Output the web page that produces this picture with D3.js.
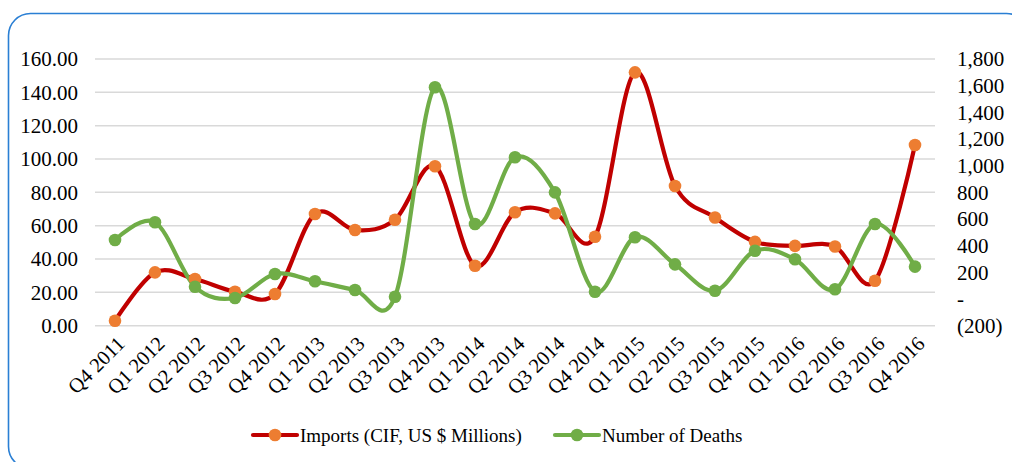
<!DOCTYPE html>
<html>
<head>
<meta charset="utf-8">
<script src="https://cdn.jsdelivr.net/npm/d3@7"></script>
<style>
  body { margin: 0; background: #fff; }
  text { font-family: "Liberation Serif", "Times New Roman", serif; fill: #000; }
</style>
</head>
<body>
<script>
// quarters along the x axis
const quarters = ["Q4 2011", "Q1 2012", "Q2 2012", "Q3 2012", "Q4 2012", "Q1 2013", "Q2 2013", "Q3 2013",
  "Q4 2013", "Q1 2014", "Q2 2014", "Q3 2014", "Q4 2014", "Q1 2015", "Q2 2015", "Q3 2015",
  "Q4 2015", "Q1 2016", "Q2 2016", "Q3 2016", "Q4 2016"];

// Imports (CIF, US $ Millions) - left axis
const imports = [3, 32, 28, 20.4, 19, 67, 57.4, 63.6, 95.7, 36, 68.1, 67.4, 53.4, 152, 83.8, 64.9,
  50.3, 47.9, 47.5, 27, 108.4];

// Number of Deaths - right axis
const deaths = [443, 576, 92, 8, 188, 133, 68, 17, 1588, 563, 1063, 800, 55, 463, 260, 62,
  362, 298, 73, 563, 243];

const leftTicks = [0, 20, 40, 60, 80, 100, 120, 140, 160];
const rightTicks = [-200, 0, 200, 400, 600, 800, 1000, 1200, 1400, 1600, 1800];

let width = 1012, height = 462;

let svg = d3.select("body").append("svg")
  .attr("width", width).attr("height", height);

// rounded frame
svg.append("rect")
  .attr("x", 8.5).attr("y", 13.5)
  .attr("width", 1020).attr("height", 455)
  .attr("rx", 22)
  .attr("fill", "none")
  .attr("stroke", "#2a7fd4")
  .attr("stroke-width", 1.6);

let x = d3.scaleBand().domain(quarters).range([95, 935]);
let yL = d3.scaleLinear().domain([0, 160]).range([325.7, 59]);
let yR = d3.scaleLinear().domain([-200, 1800]).range([325.7, 59]);

let cx = d => x(d) + x.bandwidth() / 2;

// grid lines
svg.append("g").selectAll("line")
  .data(leftTicks)
  .join("line")
  .attr("x1", 95).attr("x2", 935)
  .attr("y1", d => yL(d)).attr("y2", d => yL(d))
  .attr("stroke", "#d9d9d9")
  .attr("stroke-width", 1.5);

// left axis
let axL = svg.append("g")
  .attr("transform", "translate(84,0)")
  .call(d3.axisLeft(yL).tickValues(leftTicks).tickFormat(d3.format(".2f")).tickSize(0).tickPadding(6));
axL.select(".domain").remove();
axL.selectAll("text").style("font-size", "21px").attr("font-family", null);

// right axis
let fmtR = d => d < 0 ? "(" + d3.format(",")(-d) + ")" : d === 0 ? "-" : d3.format(",")(d);
let axR = svg.append("g")
  .attr("transform", "translate(951,0)")
  .call(d3.axisRight(yR).tickValues(rightTicks).tickFormat(fmtR).tickSize(0).tickPadding(6));
axR.select(".domain").remove();
axR.selectAll("text").style("font-size", "21px").attr("font-family", null);

// x labels
svg.append("g").selectAll("text")
  .data(quarters)
  .join("text")
  .attr("transform", d => `translate(${cx(d) + 6},${340}) rotate(-45)`)
  .attr("text-anchor", "end")
  .attr("dy", "0.35em")
  .style("font-size", "20.5px")
  .text(d => d);

let curve = d3.curveCardinal.tension(0);

let lineImp = d3.line()
  .x((d, i) => cx(quarters[i]))
  .y(d => yL(d))
  .curve(curve);

let lineDeaths = d3.line()
  .x((d, i) => cx(quarters[i]))
  .y(d => yR(d))
  .curve(curve);

svg.append("path")
  .attr("d", lineImp(imports))
  .attr("fill", "none")
  .attr("stroke", "#c00000")
  .attr("stroke-width", 4.2)
  .attr("stroke-linecap", "round");

svg.append("path")
  .attr("d", lineDeaths(deaths))
  .attr("fill", "none")
  .attr("stroke", "#70ad47")
  .attr("stroke-width", 4.2)
  .attr("stroke-linecap", "round");

svg.append("g").selectAll("circle")
  .data(imports)
  .join("circle")
  .attr("cx", (d, i) => cx(quarters[i]))
  .attr("cy", d => yL(d))
  .attr("r", 6.3)
  .attr("fill", "#ed7d31");

svg.append("g").selectAll("circle")
  .data(deaths)
  .join("circle")
  .attr("cx", (d, i) => cx(quarters[i]))
  .attr("cy", d => yR(d))
  .attr("r", 6.3)
  .attr("fill", "#70ad47");

// legend
let legend = [
  { name: "Imports (CIF, US $ Millions)", line: "#c00000", dot: "#ed7d31", x: 253 },
  { name: "Number of Deaths", line: "#70ad47", dot: "#70ad47", x: 555 }
];
let lg = svg.append("g").selectAll("g")
  .data(legend)
  .join("g")
  .attr("transform", d => `translate(${d.x},435)`);
lg.append("line")
  .attr("x1", 0).attr("x2", 44)
  .attr("stroke", d => d.line)
  .attr("stroke-width", 4.2)
  .attr("stroke-linecap", "round");
lg.append("circle")
  .attr("cx", 22).attr("r", 6.3)
  .attr("fill", d => d.dot);
lg.append("text")
  .attr("x", 47)
  .attr("dy", "0.35em")
  .style("font-size", "19px")
  .text(d => d.name);
</script>
</body>
</html>
